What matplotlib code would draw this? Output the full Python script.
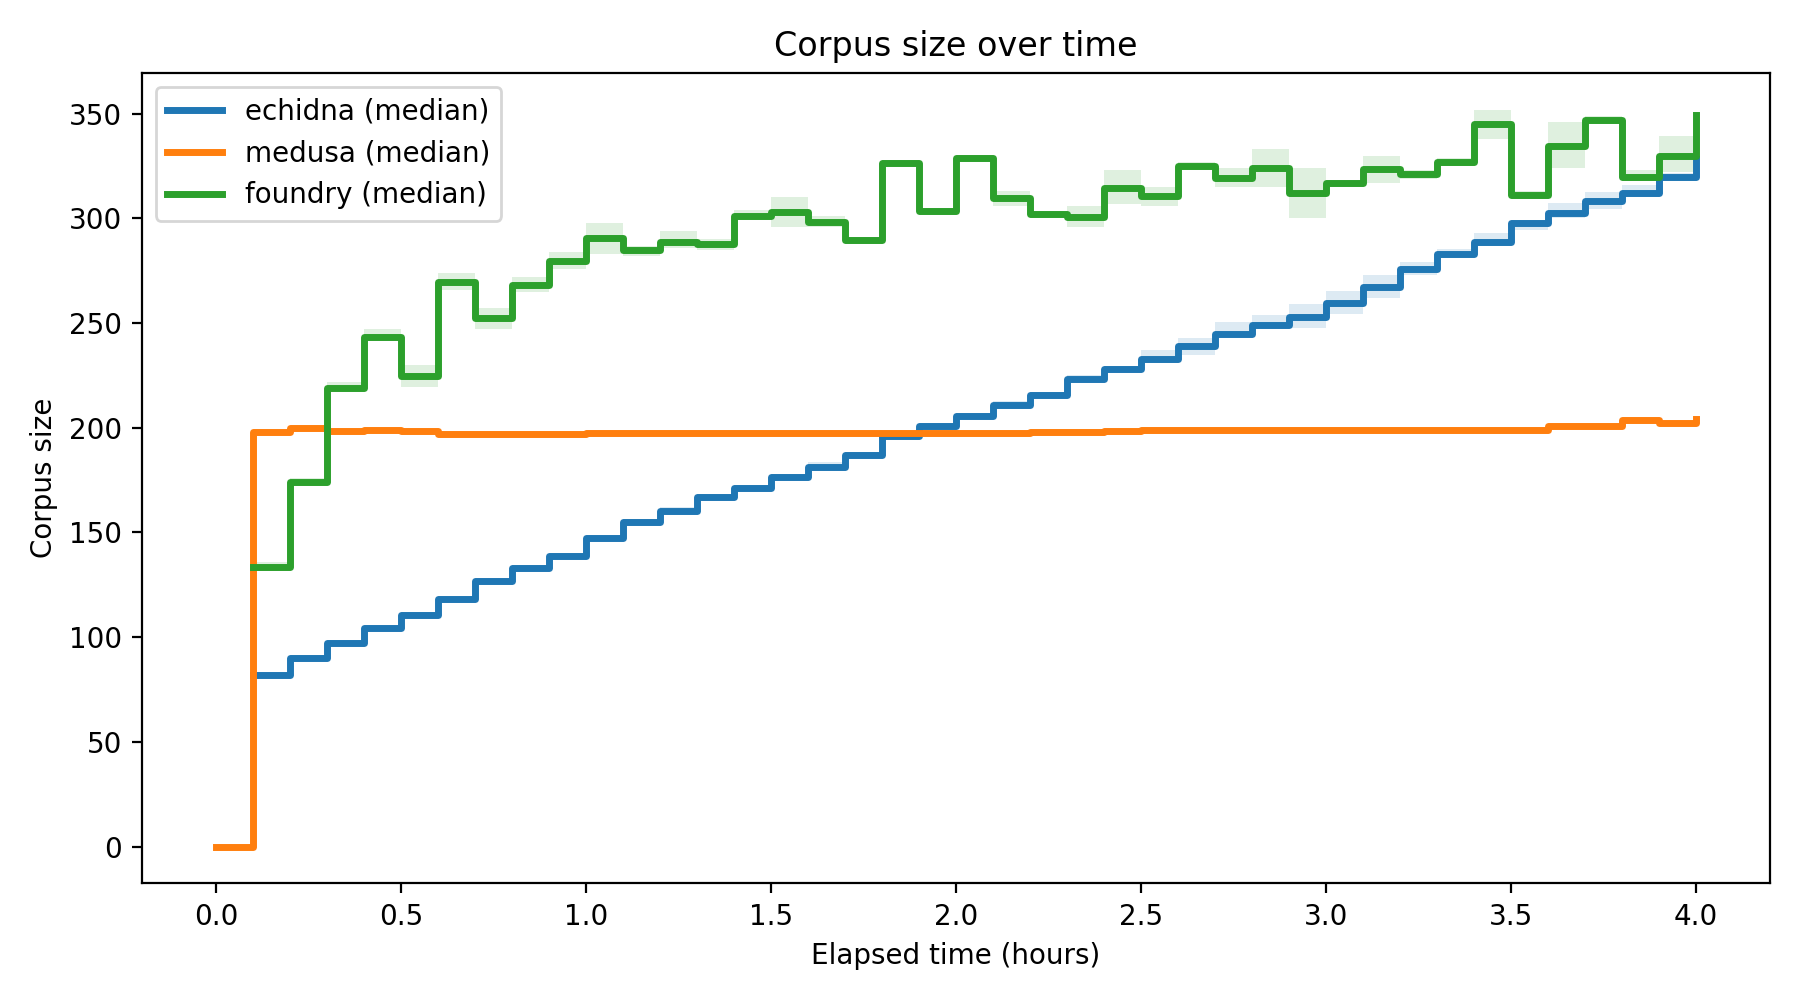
import numpy as np
import matplotlib.pyplot as plt

# elapsed time in hours, one sample every 6 minutes
hours = [round(i * 0.1, 1) for i in range(41)]

# medians (nan = no sample yet)
echidna_med = [np.nan, 81.8, 90.3, 97.1, 104.2, 110.5, 118.2, 126.6, 133, 138.6,
               147.2, 154.9, 160.4, 166.8, 171.1, 176.4, 181.2, 186.8, 196.3, 200.8,
               205.6, 211, 215.5, 223.4, 227.9, 233, 239.1, 245, 248.9, 253,
               259.6, 267.3, 275.6, 282.9, 288.8, 297.6, 302.7, 308.3, 312.3, 319.8,
               328.2]
echidna_lo = [np.nan, 80.5, 89, 96, 103, 109.5, 117, 125.5, 132, 137.5,
              146, 153.5, 159, 165.5, 170, 175, 180, 185.5, 195, 199.5,
              204.5, 209.5, 214, 222, 226.5, 231, 234.6, 243.5, 247.5, 247.8,
              254.5, 262.2, 273, 281, 287, 294.7, 300, 304.3, 310, 318,
              328.2]
echidna_hi = [np.nan, 83, 91.5, 98.5, 105.5, 112, 119.5, 128, 134.5, 140,
              148.5, 156.5, 162, 168.5, 172.5, 178, 183.5, 188.5, 198, 202.5,
              207, 213, 217, 225, 229.5, 237, 242.9, 250.5, 253.8, 258.9,
              265.4, 272.9, 279.2, 285.2, 292.8, 299.2, 307.2, 312.8, 316, 321.8,
              328.2]

medusa_med = [0, 198, 199.8, 198.4, 199, 198.4, 197.1, 197.1, 197.1, 197.1,
              197.5, 197.4, 197.4, 197.4, 197.4, 197.4, 197.4, 197.4, 197.4, 197.4,
              197.6, 197.6, 198.2, 198.2, 198.6, 199, 199, 199, 199, 199,
              199, 199, 199, 199, 199, 199, 201, 201, 203.5, 202.4,
              204.3]
medusa_lo = [0, 197, 199, 197.5, 198, 197.5, 196.3, 196.3, 196.3, 196.3,
             196.7, 196.7, 196.7, 196.7, 196.7, 196.7, 196.7, 196.7, 196.7, 196.7,
             196.9, 196.9, 197.5, 197.5, 197.9, 198.3, 198.3, 198.3, 198.3, 198.3,
             198.3, 198.3, 198.3, 198.3, 198.3, 198.3, 200.2, 200.2, 202.7, 201.7,
             204.3]
medusa_hi = [0, 199, 201, 199.2, 199.8, 199.2, 197.9, 197.9, 197.9, 197.9,
             198.2, 198.1, 198.1, 198.1, 198.1, 198.1, 198.1, 198.1, 198.1, 198.1,
             198.3, 198.3, 198.9, 198.9, 199.3, 199.7, 199.7, 199.7, 199.7, 199.7,
             199.7, 199.7, 199.7, 199.7, 199.7, 199.7, 201.8, 201.8, 204.3, 203.1,
             204.3]

foundry_med = [np.nan, 133.3, 174, 219, 243.4, 224.7, 269.7, 252.5, 268, 279.7,
               290.7, 284.8, 288.5, 288, 301.3, 303.2, 298.4, 289.6, 326.3, 303.5,
               328.7, 309.6, 301.9, 300.8, 314.6, 310.7, 325.1, 319.4, 324.2, 312,
               316.7, 323.4, 321, 327.1, 345, 311.2, 334.7, 347, 319.8, 329.9,
               349.4]
foundry_lo = [np.nan, 132, 173, 218, 242, 219.5, 266, 247, 265, 276,
              283, 282, 286, 285, 299, 296, 296, 288, 325, 302,
              327, 306, 300, 296, 307, 306, 323, 315, 315, 300,
              315, 317, 319, 325, 338, 310, 324, 345, 318, 322,
              349.4]
foundry_hi = [np.nan, 136, 176, 222, 247, 230, 274, 257, 272, 284,
              298, 287, 294, 290, 304, 310, 301, 291, 328, 305,
              330, 313, 303, 306, 323, 315, 327, 324, 333, 324,
              318, 330, 323, 329, 352, 313, 346, 349, 323, 339.5,
              349.4]

series = [
    ("echidna", echidna_med, echidna_lo, echidna_hi, "#1f77b4"),
    ("medusa", medusa_med, medusa_lo, medusa_hi, "#ff7f0e"),
    ("foundry", foundry_med, foundry_lo, foundry_hi, "#2ca02c"),
]

fig, ax = plt.subplots(figsize=(9, 5), dpi=200)

for name, med, lo, hi, color in series:
    ax.fill_between(hours, lo, hi, step="post", color=color, alpha=0.15, linewidth=0)
    ax.plot(hours, med, drawstyle="steps-post", color=color, linewidth=2.5,
            label=name + " (median)")

ax.set_title("Corpus size over time")
ax.set_xlabel("Elapsed time (hours)")
ax.set_ylabel("Corpus size")
ax.legend(loc="upper left")

fig.tight_layout()
fig.savefig("out.png")
